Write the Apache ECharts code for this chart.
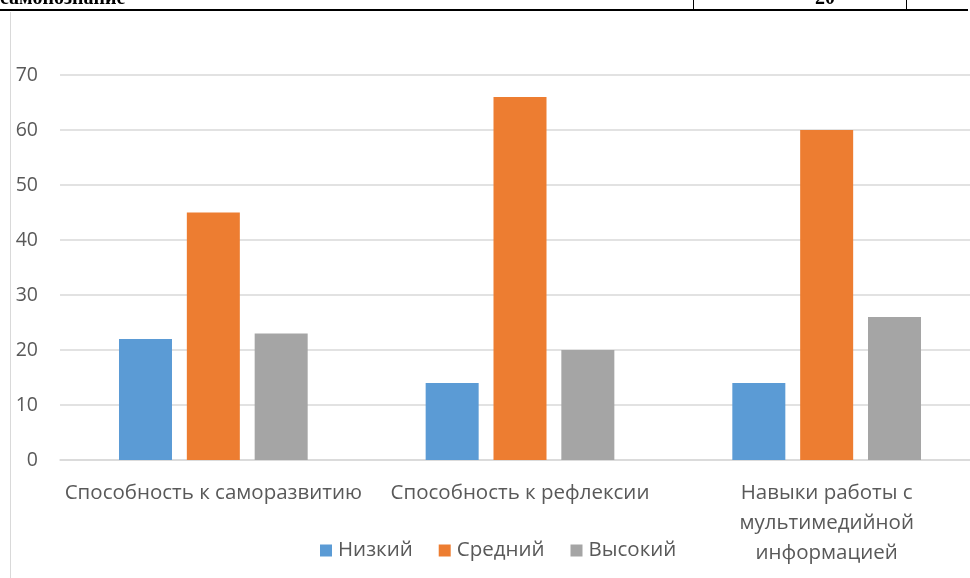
<!DOCTYPE html>
<html>
<head>
<meta charset="utf-8">
<script src="https://cdn.jsdelivr.net/npm/echarts@6/dist/echarts.min.js"></script>
<style>
  html, body { margin: 0; padding: 0; background: #fff; }
  #wrap { position: relative; width: 970px; height: 578px; overflow: hidden; }
  #chart { position: absolute; left: 0; top: 0; width: 990px; height: 578px; }
  .hline { position: absolute; left: 0; top: 9px; width: 968px; height: 2px; background: #000; }
  .vline { position: absolute; top: 0; width: 1px; height: 10px; background: #000; }
  .frame { position: absolute; left: 10px; top: 12px; width: 1px; height: 566px; background: #d9d9d9; }
  .cut { position: absolute; top: 0; height: 6px; overflow: hidden; font-family: "Liberation Serif", serif; font-size: 20px; font-weight: bold; color: #000; line-height: 24px; }
  .cut span { position: relative; top: -15px; }
</style>
</head>
<body>
<div id="wrap">
  <div id="chart"></div>
  <div class="cut" style="left:0;width:300px;"><span>самопознание</span></div>
  <div class="cut" style="left:694px;width:141px;text-align:right;"><span>20</span></div>
  <div class="hline"></div>
  <div class="vline" style="left:693px"></div>
  <div class="vline" style="left:906px"></div>
  <div class="frame"></div>
</div>
<script>
var categories = ['Способность к саморазвитию', 'Способность к рефлексии', 'Навыки работы с\nмультимедийной\nинформацией'];
var seriesNames = ['Низкий', 'Средний', 'Высокий'];
var lowValues = [22, 14, 14];
var midValues = [45, 66, 60];
var highValues = [23, 20, 26];
var yTicks = [0, 10, 20, 30, 40, 50, 60, 70];

var colors = ['#5B9BD5', '#ED7D31', '#A5A5A5'];
var font = '"Open Sans", "Noto Sans", sans-serif';
var chart = echarts.init(document.getElementById('chart'));
var data = [lowValues, midValues, highValues];
chart.setOption({
  animation: false,
  color: colors,
  grid: { left: 60, right: 10, top: 75, bottom: 118, containLabel: false },
  legend: {
    data: seriesNames,
    left: 315, top: 535,
    icon: 'rect', itemWidth: 12, itemHeight: 12, itemGap: 26,
    textStyle: { fontFamily: font, fontSize: 20.5, color: '#595959', padding: [0, 0, 0, 1] }
  },
  xAxis: {
    type: 'category',
    data: categories,
    axisLine: { lineStyle: { color: '#d9d9d9', width: 1.5 } },
    axisTick: { show: false },
    axisLabel: { interval: 0, margin: 18, fontFamily: font, fontSize: 20.5, color: '#595959', lineHeight: 30 }
  },
  yAxis: {
    type: 'value',
    min: yTicks[0], max: yTicks[yTicks.length - 1], interval: 10,
    axisLine: { show: false },
    axisTick: { show: false },
    splitLine: { lineStyle: { color: '#d9d9d9', width: 1.5 } },
    axisLabel: { margin: 22, fontFamily: font, fontSize: 19.5, color: '#595959' }
  },
  series: seriesNames.map(function (n, i) {
    return { name: n, type: 'bar', data: data[i], barWidth: 53, barGap: '28%' };
  })
});
</script>
</body>
</html>
